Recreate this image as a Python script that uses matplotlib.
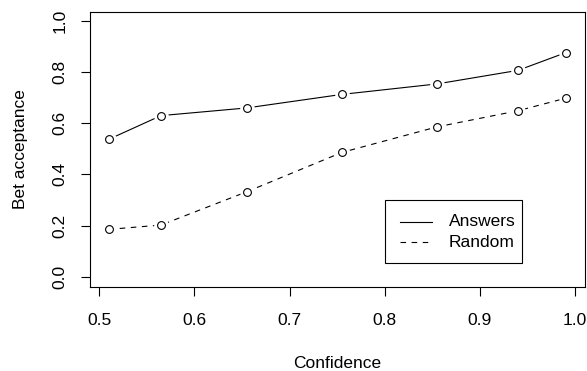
import matplotlib.pyplot as plt
from matplotlib.patches import Rectangle

# data
confidence = [0.51, 0.565, 0.655, 0.755, 0.855, 0.94, 0.99]
answers = [0.537, 0.630, 0.660, 0.713, 0.754, 0.807, 0.876]
random_bets = [0.185, 0.202, 0.332, 0.486, 0.586, 0.649, 0.698]

series_names = ["Answers", "Random"]
x_ticks = [0.5, 0.6, 0.7, 0.8, 0.9, 1.0]
y_ticks = [0.0, 0.2, 0.4, 0.6, 0.8, 1.0]

plt.rcParams["font.family"] = ["Liberation Sans", "DejaVu Sans"]
fs = 12.5

fig = plt.figure(figsize=(5.87, 3.71), dpi=100)
ax = fig.add_axes([0.1533, 0.2256, 0.8433, 0.7429])

lw = 0.8
dash = (5, 5)


def draw_series(y, dashed):
    # R type="b": line with gaps around open circles
    if dashed:
        ax.plot(confidence, y, color="black", lw=lw, dashes=dash, zorder=2)
    else:
        ax.plot(confidence, y, color="black", lw=lw, zorder=2)
    ax.plot(confidence, y, linestyle="none", marker="o", markersize=9.5,
            markerfacecolor="white", markeredgecolor="white", zorder=3)
    ax.plot(confidence, y, linestyle="none", marker="o", markersize=5.6,
            markerfacecolor="white", markeredgecolor="black",
            markeredgewidth=lw, zorder=4)


draw_series(answers, False)
draw_series(random_bets, True)

ax.set_xlim(0.4904, 1.0104)
ax.set_ylim(-0.0415, 1.0365)
ax.set_xticks(x_ticks)
ax.set_xticklabels([f"{v:.1f}" for v in x_ticks])
ax.set_yticks(y_ticks)
ax.set_yticklabels([f"{v:.1f}" for v in y_ticks], rotation=90, va="center")

ax.tick_params(direction="out", length=6.5, width=lw, labelsize=fs)
ax.tick_params(axis="x", pad=12)
ax.tick_params(axis="y", pad=9.5)
for s in ax.spines.values():
    s.set_linewidth(lw)

ax.set_xlabel("Confidence", fontsize=fs, labelpad=20.5)
ax.set_ylabel("Bet acceptance", fontsize=fs, labelpad=18)

# legend drawn R-style (box, short line samples, labels)
tr = ax.transAxes
ax.add_patch(Rectangle((0.596, 0.0893), 0.276, 0.2275, transform=tr,
                       facecolor="white", edgecolor="black", lw=lw, zorder=5))
row_y = [0.237, 0.164]
styles = [None, dash]
for name, yy, d in zip(series_names, row_y, styles):
    if d is None:
        ax.plot([0.626, 0.690], [yy, yy], transform=tr, color="black",
                lw=lw, zorder=6)
    else:
        ax.plot([0.626, 0.690], [yy, yy], transform=tr, color="black",
                lw=lw, dashes=d, zorder=6)
    ax.text(0.725, yy, name, transform=tr, fontsize=fs, va="center",
            ha="left", zorder=6)

fig.savefig("out.png", dpi=100)
